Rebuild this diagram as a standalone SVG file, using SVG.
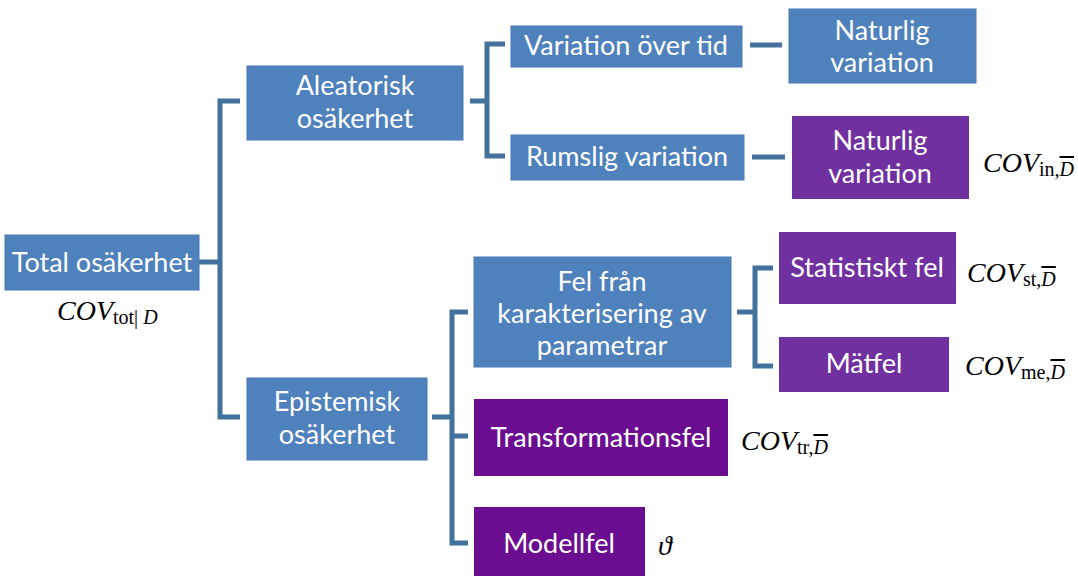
<svg xmlns="http://www.w3.org/2000/svg" width="1078" height="577" viewBox="0 0 1078 577">
<style>
.b{fill:#4F81BD;stroke:#4A7AB5;stroke-width:1}
.p{fill:#7030A0}
.p2{fill:#6A0D91}
.t{font-family:Lato,"Open Sans",sans-serif;font-size:27px;fill:#fff;text-anchor:middle}
.c{fill:none;stroke:#41719C;stroke-width:5}
.m{font-family:"Liberation Serif","DejaVu Serif",serif;font-size:28px;fill:#000}
.mi{font-style:italic}
.s{font-size:20px}
</style>
<rect width="1078" height="577" fill="#fff"/>
<g id="connectors">
<path class="c" d="M199 262H220M240 101H220V417H240"/>
<path class="c" d="M470 101H487M505 44H487V156H505"/>
<path class="c" d="M750 45H782"/>
<path class="c" d="M752 157H785"/>
<path class="c" d="M432 417H452M468 312H452V543H468M452 436H468"/>
<path class="c" d="M737 312H755M773 268H755V366H773"/>
</g>
<g id="total"><rect class="b" x="5" y="235" width="194" height="55"/><text class="t" x="102" y="272">Total osäkerhet</text></g>
<g id="aleatorisk"><rect class="b" x="247" y="66" width="216" height="74"/><text class="t" x="355" y="95">Aleatorisk</text><text class="t" x="355" y="128">osäkerhet</text></g>
<g id="epistemisk"><rect class="b" x="247" y="378" width="180" height="82"/><text class="t" x="337" y="411">Epistemisk</text><text class="t" x="337" y="444">osäkerhet</text></g>
<g id="variation-tid"><rect class="b" x="511" y="26" width="231" height="41"/><text class="t" x="626" y="55">Variation över tid</text></g>
<g id="rumslig"><rect class="b" x="511" y="135" width="233" height="45"/><text class="t" x="627" y="166">Rumslig variation</text></g>
<g id="naturlig1"><rect class="b" x="789" y="9" width="187" height="74"/><text class="t" x="882" y="40">Naturlig</text><text class="t" x="882" y="72">variation</text></g>
<g id="naturlig2"><rect class="p" x="792" y="116" width="177" height="83"/><text class="t" x="880" y="150">Naturlig</text><text class="t" x="880" y="183">variation</text></g>
<g id="fel-fran"><rect class="b" x="474" y="257" width="257" height="110"/><text class="t" x="602" y="291">Fel från</text><text class="t" x="602" y="323">karakterisering av</text><text class="t" x="602" y="355">parametrar</text></g>
<g id="statistiskt"><rect class="p" x="779" y="232" width="177" height="72"/><text class="t" x="867" y="277">Statistiskt fel</text></g>
<g id="matfel"><rect class="p" x="779" y="337" width="170" height="55"/><text class="t" x="864" y="373">Mätfel</text></g>
<g id="transformationsfel"><rect class="p2" x="474" y="399" width="254" height="77"/><text class="t" x="601" y="447">Transformationsfel</text></g>
<g id="modellfel"><rect class="p2" x="474" y="507" width="171" height="69"/><text class="t" x="559" y="553">Modellfel</text></g>
<g id="labels">
<text class="m" x="57" y="320"><tspan class="mi">COV</tspan><tspan class="s" dy="4">tot| </tspan><tspan class="s mi">D</tspan></text>
<text class="m" x="983" y="172"><tspan class="mi">COV</tspan><tspan class="s" dy="4">in,</tspan><tspan class="s mi" text-decoration="overline">D</tspan></text>
<text class="m" x="967" y="282"><tspan class="mi">COV</tspan><tspan class="s" dy="4">st,</tspan><tspan class="s mi" text-decoration="overline">D</tspan></text>
<text class="m" x="965" y="375"><tspan class="mi">COV</tspan><tspan class="s" dy="4">me,</tspan><tspan class="s mi" text-decoration="overline">D</tspan></text>
<text class="m" x="741" y="450"><tspan class="mi">COV</tspan><tspan class="s" dy="4">tr,</tspan><tspan class="s mi" text-decoration="overline">D</tspan></text>
<text class="m mi" x="658" y="555">ϑ</text>
</g>
</svg>
